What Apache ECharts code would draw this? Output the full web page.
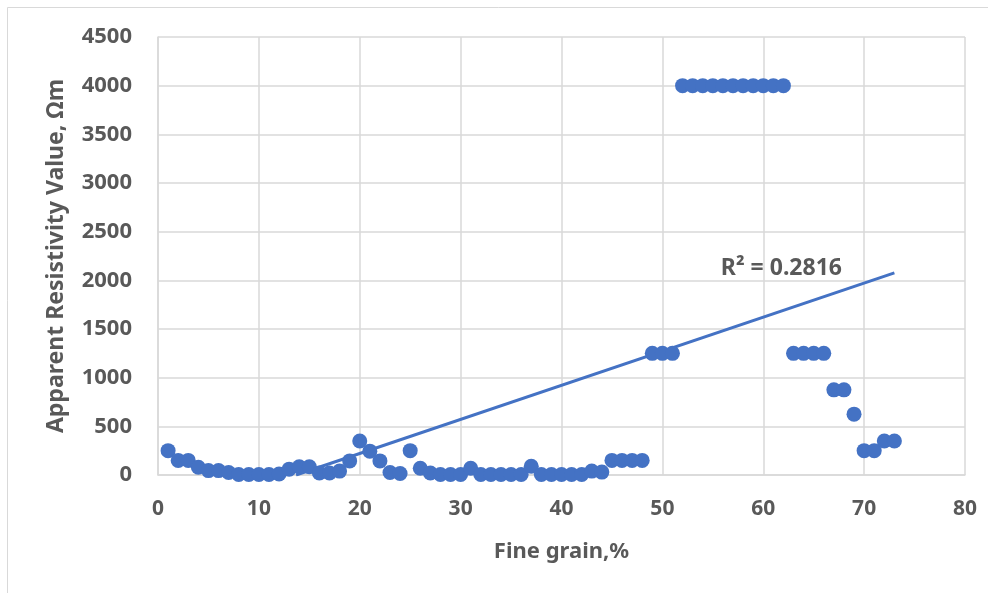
<!DOCTYPE html>
<html>
<head>
<meta charset="utf-8">
<script src="https://cdn.jsdelivr.net/npm/echarts@6/dist/echarts.min.js"></script>
<style>
  html, body { margin: 0; padding: 0; background: #fff; }
  #chart { width: 988px; height: 593px; }
</style>
</head>
<body>
<div id="chart"></div>
<script>
// fine grain % (x)
var fineGrain = [];
for (var i = 1; i <= 73; i++) fineGrain.push(i);

// apparent resistivity, Ωm (y)
var resistivity = [
  250, 150, 150, 80, 45, 45, 25, 5, 5, 5,
  5, 10, 60, 85, 85, 20, 20, 40, 145, 350,
  245, 145, 25, 15, 250, 70, 20, 5, 5, 5,
  70, 5, 5, 5, 5, 5, 90, 5, 5, 5,
  5, 5, 40, 30, 150, 150, 150, 150, 1250, 1250,
  1250, 4000, 4000, 4000, 4000, 4000, 4000, 4000, 4000, 4000,
  4000, 4000, 1250, 1250, 1250, 1250, 875, 875, 625, 250,
  250, 350, 350
];

var xTicks = [0, 10, 20, 30, 40, 50, 60, 70, 80];
var yTicks = [0, 500, 1000, 1500, 2000, 2500, 3000, 3500, 4000, 4500];
var r2Label = 'R² = 0.2816';

// points
var points = fineGrain.map(function (x, i) { return [x, resistivity[i]]; });

// linear trendline (least squares), clipped at y = 0 like excel
var n = points.length, sx = 0, sy = 0, sxx = 0, sxy = 0;
points.forEach(function (p) { sx += p[0]; sy += p[1]; sxx += p[0] * p[0]; sxy += p[0] * p[1]; });
var slope = (n * sxy - sx * sy) / (n * sxx - sx * sx);
var icpt = (sy - slope * sx) / n;
var xStart = Math.max(fineGrain[0], -icpt / slope);
var xEnd = fineGrain[fineGrain.length - 1];
var trend = [[xStart, slope * xStart + icpt], [xEnd, slope * xEnd + icpt]];

var txt = '#595959';
var gridCol = '#d9d9d9';
var fontFam = '"Noto Sans", "Open Sans", sans-serif';

var chart = echarts.init(document.getElementById('chart'));
chart.setOption({
  animation: false,
  backgroundColor: '#fff',
  grid: { left: 158, right: 23, top: 37, bottom: 118, containLabel: false },
  graphic: [{
    type: 'rect',
    shape: { x: 7.5, y: 7.5, width: 1000, height: 700 },
    style: { fill: 'none', stroke: gridCol, lineWidth: 1 },
    silent: true
  }],
  xAxis: {
    type: 'value',
    min: xTicks[0], max: xTicks[xTicks.length - 1], interval: 10,
    name: 'Fine grain,%',
    nameLocation: 'middle',
    nameGap: 66,
    nameTextStyle: { color: txt, fontSize: 22, fontWeight: 'bold', fontFamily: fontFam },
    axisLine: { show: true, lineStyle: { color: gridCol, width: 1.5 } },
    axisTick: { show: false },
    axisLabel: { color: txt, fontSize: 21, fontWeight: 'bold', fontFamily: fontFam, margin: 24 },
    splitLine: { show: true, lineStyle: { color: gridCol, width: 1.5 } }
  },
  yAxis: {
    type: 'value',
    min: yTicks[0], max: yTicks[yTicks.length - 1], interval: 500,
    name: 'Apparent Resistivity Value, Ωm',
    nameLocation: 'middle',
    nameGap: 90,
    nameTextStyle: { color: txt, fontSize: 23, fontWeight: 'bold', fontFamily: fontFam },
    axisLine: { show: true, lineStyle: { color: gridCol, width: 1.5 } },
    axisTick: { show: false },
    axisLabel: {
      color: txt, fontSize: 22, fontWeight: 'bold', fontFamily: fontFam, margin: 26,
      formatter: function (v) { return String(v); }
    },
    splitLine: { show: true, lineStyle: { color: gridCol, width: 1.5 } }
  },
  series: [
    {
      name: 'Resistivity',
      type: 'scatter',
      data: points,
      symbol: 'circle',
      symbolSize: 15,
      itemStyle: { color: '#4472c4', opacity: 1 },
      z: 3
    },
    {
      name: 'Trend',
      type: 'line',
      data: trend,
      showSymbol: false,
      lineStyle: { color: '#4472c4', width: 3 },
      z: 2,
      markPoint: {
        symbol: 'rect', symbolSize: 1,
        itemStyle: { color: 'transparent' },
        data: [{ coord: [61.8, 2127] }],
        label: {
          show: true, formatter: r2Label, position: 'inside',
          color: txt, fontSize: 23, fontWeight: 'bold', fontFamily: fontFam
        }
      }
    }
  ]
});
</script>
</body>
</html>
